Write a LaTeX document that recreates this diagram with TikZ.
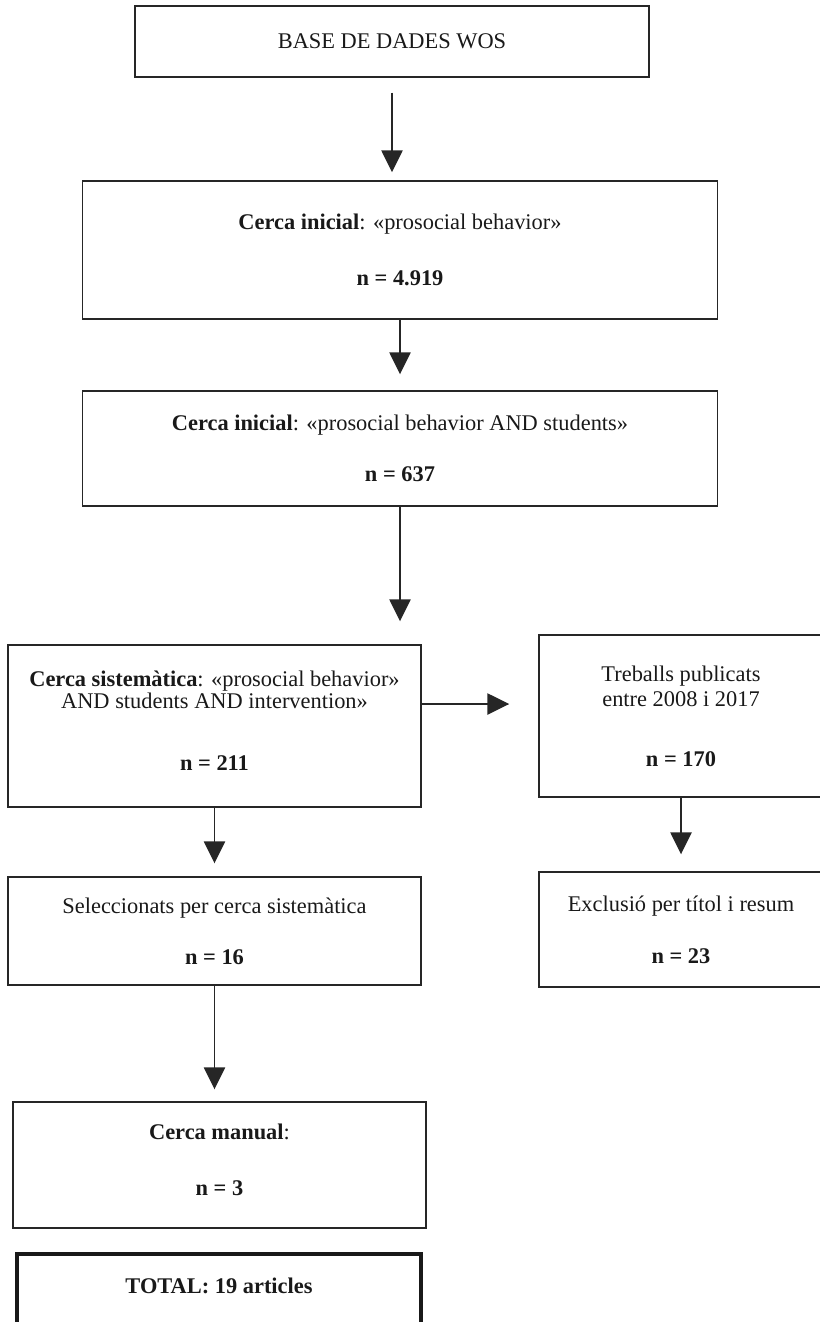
\documentclass[tikz,border=0pt]{standalone}
\usepackage{fontspec}
\setmainfont{Liberation Serif}
\usetikzlibrary{arrows.meta,calc}
\begin{document}
\begin{tikzpicture}[x=0.75pt,y=-0.75pt,
  box/.style={draw=black!85, line width=1.1pt, rectangle, inner sep=0pt, align=center,
    font=\fontsize{16.8}{19}\selectfont, text=black!90},
  txt/.style={inner sep=0pt, align=center, font=\fontsize{16.8}{19}\selectfont, text=black!90},
  arr/.style={draw=black!85, line width=1.1pt, -{Triangle[length=16.5pt,width=16pt]}},
  totalbox/.style={draw=black!90, line width=2.4pt, rectangle, inner sep=0pt},
]
\useasboundingbox (0,0) rectangle (819,1322);

\node[box, minimum width=385.5pt, minimum height=53.25pt] (b1) at (392,41.5) {BASE DE DADES WOS};

\node[box, minimum width=476.25pt, minimum height=103.5pt] (b2) at (400,250)
  {\textbf{Cerca inicial}: «prosocial behavior»\\[23pt]\textbf{n = 4.919}};

\node[box, minimum width=476.25pt, minimum height=86.25pt] (b3) at (400,448.5)
  {\textbf{Cerca inicial}: «prosocial behavior AND students»\\[19pt]\textbf{n = 637}};

\node[box, minimum width=309.75pt, minimum height=121.5pt] (b4) at (214.5,726) {};
\node[txt] (t4) at (214.5,721)
  {\textbf{Cerca sistemàtica}: «prosocial behavior»\\[-3pt]AND students AND intervention»\\[28pt]\textbf{n = 211}};

\node[box, minimum width=213pt, minimum height=121.5pt] (b5) at (681,716)
  {Treballs publicats\\entre 2008 i 2017\\[26pt]\textbf{n = 170}};

\node[box, minimum width=309.75pt, minimum height=81pt] (b6) at (214.5,931)
  {Seleccionats per cerca sistemàtica\\[19pt]\textbf{n = 16}};

\node[box, minimum width=213pt, minimum height=86.25pt] (b7) at (681,929.5)
  {Exclusió per títol i resum\\[20pt]\textbf{n = 23}};

\node[box, minimum width=309.75pt, minimum height=94.5pt] (b8) at (219.5,1165) {};
\node[txt] (t8) at (219.5,1159.5) {\textbf{Cerca manual}:\\[23pt]\textbf{n = 3}};

\node[totalbox, minimum width=303pt, minimum height=90pt] (b9) at (219,1314) {};
\node[txt, font=\fontsize{16.8}{19}\selectfont\bfseries] (t9) at (219,1286) {TOTAL: 19 articles};

\draw[arr, shorten <=11.25pt, shorten >=6pt] (b1.south) -- (b1.south |- b2.north);
\draw[arr, shorten >=12pt] (b2.south) -- (b2.south |- b3.north);
\draw[arr, shorten >=17.25pt] (b3.south) -- (b3.south |- b4.north);
\coordinate (h4) at ($(b4.east)+(0,-22)$);
\draw[arr, shorten >=21.75pt] (h4) -- (h4 -| b5.west);
\draw[arr, shorten >=12.75pt] (b5.south) -- (b5.south |- b7.north);
\draw[arr, shorten >=9.75pt] (b4.south) -- (b4.south |- b6.north);
\draw[arr, shorten >=9pt] (b6.south) -- (b6.south |- b8.north);
\end{tikzpicture}
\end{document}
